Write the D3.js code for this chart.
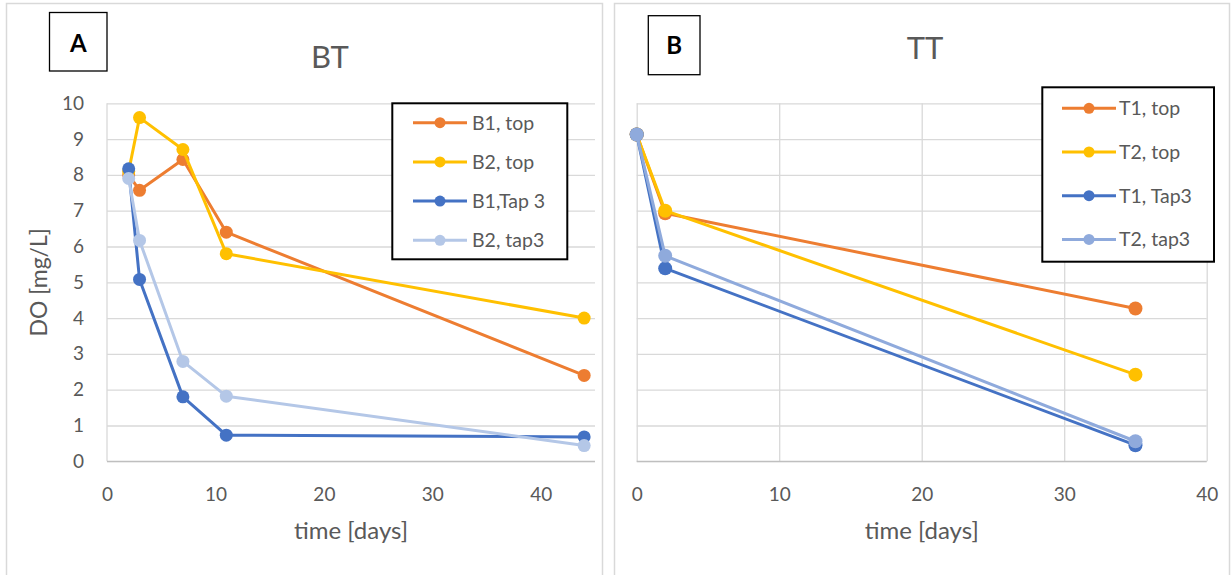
<!DOCTYPE html>
<html>
<head>
<meta charset="utf-8">
<script src="https://cdn.jsdelivr.net/npm/d3@7/dist/d3.min.js"></script>
<style>
  html, body { margin: 0; padding: 0; background: #fff; }
  svg { display: block; font-family: Lato, "Open Sans", sans-serif; }
</style>
</head>
<body>
<svg id="chart" width="1232" height="575"></svg>
<script>
// Dissolved oxygen over time, two test setups
const daysBT = [2, 3, 7, 11, 44];
const b1Top  = [8.0, 7.57, 8.43, 6.4, 2.4];
const b2Top  = [8.1, 9.6, 8.71, 5.8, 4.0];
const b1Tap3 = [8.17, 5.08, 1.8, 0.73, 0.68];
const b2Tap3 = [7.9, 6.17, 2.79, 1.82, 0.44];

const daysTT = [0, 2, 35];
const t1Top  = [9.13, 6.93, 4.27];
const t2Top  = [9.13, 7.0, 2.42];
const t1Tap3 = [9.13, 5.39, 0.45];
const t2Tap3 = [9.13, 5.74, 0.56];

const yTicks = [0, 1, 2, 3, 4, 5, 6, 7, 8, 9, 10];
const xTicksBT = [0, 10, 20, 30, 40];
const xTicksTT = [0, 10, 20, 30, 40];

const seriesBT = [
  { name: "B1, top",   values: b1Top,  color: "#ED7D31" },
  { name: "B2, top",   values: b2Top,  color: "#FFC000" },
  { name: "B1,Tap 3",  values: b1Tap3, color: "#4472C4" },
  { name: "B2, tap3",  values: b2Tap3, color: "#B4C7E7" }
];
const seriesTT = [
  { name: "T1, top",   values: t1Top,  color: "#ED7D31" },
  { name: "T2, top",   values: t2Top,  color: "#FFC000" },
  { name: "T1, Tap3",  values: t1Tap3, color: "#4472C4" },
  { name: "T2, tap3",  values: t2Tap3, color: "#8FAADC" }
];

const svg = d3.select("#chart");
const textGray = "#595959";
const gridGray = "#d9d9d9";
const axisGray = "#bfbfbf";

// panel frames
svg.append("rect").attr("x", 6.5).attr("y", 3.5).attr("width", 596).attr("height", 600)
  .attr("fill", "none").attr("stroke", gridGray).attr("stroke-width", 1.5);
svg.append("rect").attr("x", 614.5).attr("y", 3.5).attr("width", 615).attr("height", 600)
  .attr("fill", "none").attr("stroke", gridGray).attr("stroke-width", 1.5);

function panel(cfg) {
  const g = svg.append("g");
  const x = d3.scaleLinear().domain(cfg.xDomain).range([cfg.left, cfg.right]);
  const y = d3.scaleLinear().domain([0, 10]).range([cfg.bottom, cfg.top]);

  // horizontal gridlines
  const gy = g.append("g").attr("transform", `translate(${cfg.left},0)`)
    .call(d3.axisLeft(y).tickValues(yTicks).tickSize(-(cfg.right - cfg.left)).tickFormat(""));
  gy.select(".domain").remove();
  gy.selectAll(".tick line").attr("stroke", gridGray).attr("stroke-width", 1.3);

  // vertical gridlines
  if (cfg.vGrid) {
    const gx = g.append("g").attr("transform", `translate(0,${cfg.bottom})`)
      .call(d3.axisBottom(x).tickValues(cfg.xTicks).tickSize(-(cfg.bottom - cfg.top)).tickFormat(""));
    gx.select(".domain").remove();
    gx.selectAll(".tick line").attr("stroke", gridGray).attr("stroke-width", 1.3);
  } else {
    g.append("line").attr("x1", cfg.left).attr("x2", cfg.left)
      .attr("y1", cfg.top).attr("y2", cfg.bottom)
      .attr("stroke", gridGray).attr("stroke-width", 1.3);
  }

  // x baseline
  g.append("line").attr("x1", cfg.left).attr("x2", cfg.right)
    .attr("y1", cfg.bottom).attr("y2", cfg.bottom)
    .attr("stroke", axisGray).attr("stroke-width", 1.3);

  // x tick labels
  const xa = g.append("g").attr("transform", `translate(0,${cfg.bottom})`)
    .call(d3.axisBottom(x).tickValues(cfg.xTicks).tickSize(0).tickPadding(26));
  xa.select(".domain").remove();
  xa.selectAll("text").attr("fill", textGray).attr("font-size", 19).attr("font-family", "Lato, sans-serif");

  // y tick labels
  if (cfg.yLabels) {
    const ya = g.append("g").attr("transform", `translate(${cfg.left},0)`)
      .call(d3.axisLeft(y).tickValues(yTicks).tickSize(0).tickPadding(23));
    ya.select(".domain").remove();
    ya.selectAll("text").attr("fill", textGray).attr("font-size", 19).attr("font-family", "Lato, sans-serif");
    g.append("text")
      .attr("transform", `translate(47,${(cfg.top + cfg.bottom) / 2}) rotate(-90)`)
      .attr("text-anchor", "middle").attr("fill", textGray).attr("font-size", 23)
      .text("DO [mg/L]");
  }

  // x axis title
  g.append("text").attr("x", (cfg.left + cfg.right) / 2).attr("y", cfg.xTitleY)
    .attr("text-anchor", "middle").attr("fill", textGray).attr("font-size", 24)
    .text("time [days]");

  // chart title
  g.append("text").attr("x", cfg.titleX).attr("y", cfg.titleY)
    .attr("text-anchor", "middle").attr("fill", textGray).attr("font-size", 31)
    .text(cfg.title);

  // panel letter box
  g.append("rect").attr("x", cfg.box[0]).attr("y", cfg.box[1])
    .attr("width", cfg.box[2]).attr("height", cfg.box[3])
    .attr("fill", "#fff").attr("stroke", "#000").attr("stroke-width", 1.3);
  g.append("text").attr("x", cfg.box[0] + cfg.box[2] / 2).attr("y", cfg.letterY)
    .attr("text-anchor", "middle").attr("fill", "#000").attr("font-weight", "bold")
    .attr("font-size", 24).text(cfg.letter);

  // series
  const line = d3.line().x(d => x(d[0])).y(d => y(d[1]));
  cfg.series.forEach(s => {
    const pts = cfg.days.map((d, i) => [d, s.values[i]]);
    const sg = g.append("g");
    sg.append("path").attr("d", line(pts)).attr("fill", "none")
      .attr("stroke", s.color).attr("stroke-width", 3).attr("stroke-linejoin", "round");
    sg.selectAll("circle").data(pts).join("circle")
      .attr("cx", d => x(d[0])).attr("cy", d => y(d[1])).attr("r", cfg.markerR)
      .attr("fill", s.color);
  });

  // legend
  const L = cfg.legend;
  const lg = g.append("g");
  lg.append("rect").attr("x", L.x).attr("y", L.y).attr("width", L.w).attr("height", L.h)
    .attr("fill", "#fff").attr("stroke", "#000").attr("stroke-width", 2);
  cfg.series.forEach((s, i) => {
    const yy = L.firstY + i * L.step;
    lg.append("line").attr("x1", L.lineX0).attr("x2", L.lineX1).attr("y1", yy).attr("y2", yy)
      .attr("stroke", s.color).attr("stroke-width", 3);
    lg.append("circle").attr("cx", (L.lineX0 + L.lineX1) / 2).attr("cy", yy).attr("r", 5.5)
      .attr("fill", s.color);
    lg.append("text").attr("x", L.textX).attr("y", yy).attr("dy", "0.35em")
      .attr("fill", textGray).attr("font-size", 19.5).text(s.name);
  });
}

panel({
  xDomain: [0, 45], xTicks: xTicksBT, left: 107, right: 595, top: 103.3, bottom: 461.3,
  vGrid: false, yLabels: true, xTitleY: 539, title: "BT", titleX: 330, titleY: 68,
  box: [49.5, 12.5, 57.5, 58.5], letter: "A", letterY: 51.5,
  days: daysBT, series: seriesBT, markerR: 6.5,
  legend: { x: 392.3, y: 103.3, w: 175, h: 156, firstY: 122.7, step: 39.2,
            lineX0: 413, lineX1: 467, textX: 472 }
});

panel({
  xDomain: [0, 40], xTicks: xTicksTT, left: 636.7, right: 1206.7, top: 103.3, bottom: 461.3,
  vGrid: true, yLabels: false, xTitleY: 539, title: "TT", titleX: 925, titleY: 59,
  box: [648.3, 15.7, 51.7, 59], letter: "B", letterY: 54.3,
  days: daysTT, series: seriesTT, markerR: 7,
  legend: { x: 1042.3, y: 87.3, w: 171.7, h: 174.4, firstY: 108.3, step: 43.7,
            lineX0: 1062, lineX1: 1116, textX: 1119 }
});
</script>
</body>
</html>
